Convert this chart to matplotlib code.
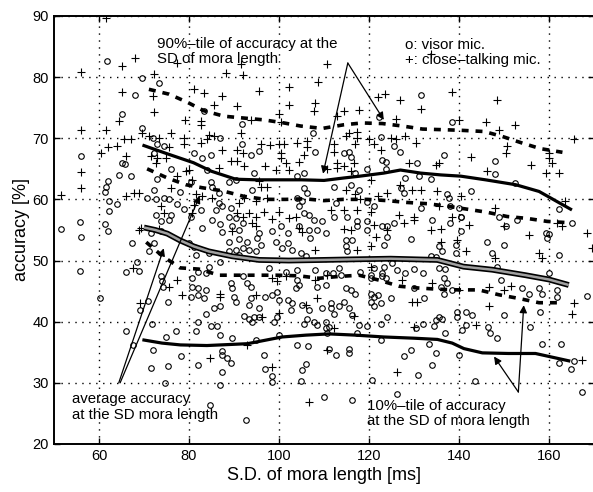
import matplotlib
matplotlib.use("Agg")
import matplotlib.pyplot as plt

plt.rcParams['font.family'] = ['Liberation Sans', 'DejaVu Sans']
plt.rcParams['lines.scale_dashes'] = False

# scatter data: visor mic. (o) and close-talking mic. (+), (SD of mora length [ms], accuracy [%])
visor_points = [
    (61.7, 82.7), (69.5, 79.8), (73.3, 79.1), (68.1, 77.1), (65.2, 74.0), (69.5, 71.6), (71.9, 70.1),
    (72.8, 69.0), (74.4, 68.7), (55.9, 67.1), (65.2, 66.0), (65.8, 65.8), (72.2, 67.6), (64.4, 64.0),
    (67.2, 63.9), (75.9, 64.9), (73.0, 63.4), (61.9, 63.0), (61.5, 62.1), (61.3, 61.2), (72.2, 61.6),
    (78.1, 61.2), (62.2, 59.7), (64.1, 59.2), (62.2, 58.1), (70.7, 60.3), (72.6, 60.0), (74.4, 60.3),
    (75.6, 60.0), (77.4, 59.3), (78.9, 58.4), (72.6, 57.5), (75.9, 57.4), (73.7, 56.4), (75.6, 56.7),
    (55.8, 56.3), (61.3, 55.9), (51.5, 55.1),
    (55.9, 53.9), (62.0, 54.8), (71.5, 54.5), (73.7, 54.8), (67.4, 52.8), (72.2, 52.9), (71.1, 51.6),
    (55.8, 48.3), (66.1, 48.2), (68.9, 48.3), (68.5, 49.8), (73.7, 47.4), (73.9, 46.6), (74.3, 45.6),
    (60.2, 43.9), (71.0, 43.4), (69.1, 41.9), (75.3, 43.3), (71.7, 39.6), (66.1, 38.5), (77.2, 38.5),
    (74.8, 37.5), (67.6, 36.2), (72.1, 35.3), (78.3, 34.4), (71.5, 32.5), (75.4, 32.7), (74.7, 30.0),
    (83.3, 74.5), (91.7, 72.4), (107.6, 70.9), (87.0, 70.1), (91.7, 69.1), (108.0, 67.7), (81.1, 67.6),
    (82.8, 66.8), (84.8, 67.2), (93.7, 67.2), (95.6, 67.9), (84.1, 64.8), (90.4, 63.2), (88.9, 62.8),
    (94.4, 64.3), (104.1, 63.8), (105.6, 64.3), (80.4, 62.8), (84.8, 62.8), (85.2, 62.1), (86.7, 61.0),
    (86.7, 59.4), (94.1, 61.6), (105.6, 61.9), (106.3, 61.1), (104.1, 60.2), (105.2, 59.7), (82.6, 58.3),
    (85.9, 58.3), (87.4, 58.9), (89.3, 58.6), (80.4, 57.2), (104.4, 58.9), (105.6, 57.8), (106.7, 57.5),
    (107.8, 56.7), (109.6, 56.4), (85.2, 56.7), (87.0, 55.9), (88.9, 57.2), (90.4, 56.9), (91.9, 56.1),
    (89.6, 55.6), (100.4, 55.6), (104.4, 55.7), (106.7, 55.0), (83.0, 55.3),
    (87.4, 54.6), (91.1, 55.0), (95.6, 54.5), (98.5, 54.8), (101.9, 54.5), (107.0, 53.7), (108.5, 55.0),
    (110.4, 54.5), (88.9, 53.1), (91.1, 53.5), (93.0, 53.1), (95.2, 53.7), (95.9, 52.6), (99.3, 53.1),
    (100.7, 52.0), (101.9, 52.8), (103.0, 51.7), (90.4, 51.7), (91.9, 52.0), (93.3, 51.7), (94.8, 51.5),
    (91.1, 50.9), (88.9, 51.5), (104.8, 51.2), (105.9, 50.8), (81.5, 50.9), (84.4, 51.2), (87.0, 49.8),
    (80.0, 52.8), (81.1, 52.2), (84.4, 49.0), (81.9, 48.2), (83.7, 47.9), (80.7, 47.1), (97.8, 48.7),
    (101.5, 48.2), (104.1, 48.5), (108.1, 48.5), (110.4, 47.9), (91.9, 47.4), (93.0, 46.3), (93.7, 45.7),
    (89.6, 45.5), (89.3, 46.3), (104.1, 46.8), (104.4, 46.0), (103.7, 45.5), (108.5, 45.7), (110.4, 46.0),
    (80.7, 45.7), (81.9, 45.5), (83.7, 45.2), (80.4, 44.1), (81.9, 44.4), (83.3, 43.8), (90.0, 44.1),
    (90.4, 43.3), (93.7, 43.8), (93.3, 42.7), (95.6, 42.2), (97.0, 44.1), (98.5, 44.4), (99.6, 44.9),
    (100.0, 43.6), (101.9, 43.6), (103.0, 43.0), (102.6, 41.9), (105.2, 42.7), (106.7, 41.9), (109.6, 42.2),
    (85.6, 42.2), (87.0, 42.5), (83.7, 41.3), (92.2, 40.9), (93.3, 40.5), (94.4, 40.7), (95.6, 40.8),
    (94.1, 40.0), (98.9, 40.0), (99.6, 40.7), (106.3, 40.5), (105.6, 39.6), (107.8, 40.0), (108.5, 39.4),
    (110.4, 40.0), (110.4, 38.9), (81.9, 40.0), (84.8, 39.3), (86.3, 39.3), (81.5, 38.4), (86.9, 37.8),
    (89.5, 37.4), (100.0, 37.9), (94.8, 37.0), (104.1, 36.2), (106.4, 36.0), (87.3, 35.2), (87.4, 34.6),
    (88.5, 34.0), (89.4, 33.3), (96.7, 34.6), (81.9, 32.9), (87.4, 31.8), (96.9, 32.2), (98.5, 31.1),
    (98.5, 30.2), (105.2, 32.1), (106.1, 33.1), (86.9, 29.7), (104.8, 30.3), (110.0, 27.7), (84.6, 26.3),
    (92.7, 24.0),
    (131.6, 77.0), (122.2, 73.5), (138.4, 72.6), (122.6, 70.2), (125.6, 68.7), (127.0, 67.7), (114.4, 67.6),
    (115.6, 67.7), (115.9, 67.0), (123.0, 66.4), (123.7, 66.1), (123.7, 65.0), (130.7, 66.0), (136.7, 67.2),
    (117.0, 64.3), (119.6, 64.9), (115.9, 62.4), (117.8, 61.6), (112.2, 62.0), (128.1, 63.5), (131.1, 63.8),
    (133.7, 63.3), (127.8, 61.0), (127.2, 61.9), (137.4, 60.8), (137.8, 60.2), (112.6, 59.4), (119.6, 59.5),
    (121.1, 59.0), (131.5, 58.6), (138.1, 58.9), (140.0, 58.6), (140.5, 57.2), (112.2, 57.2), (115.2, 57.2),
    (117.4, 56.4), (119.6, 56.4), (123.0, 55.6), (124.1, 55.7), (125.6, 56.1), (117.4, 55.6), (134.1, 56.7),
    (138.1, 56.1),
    (119.6, 55.0), (124.1, 53.9), (114.8, 53.3), (116.3, 53.3), (114.8, 52.4), (115.2, 51.6), (123.3, 52.6),
    (129.3, 53.5), (135.6, 52.3), (136.3, 51.5), (139.3, 51.2), (139.3, 52.6), (133.7, 50.8), (135.0, 50.5),
    (113.3, 48.7), (111.9, 47.9), (113.7, 47.6), (118.1, 48.2), (120.4, 47.6), (121.1, 48.7), (123.0, 47.9),
    (123.3, 49.0), (125.2, 49.6), (126.3, 48.5), (128.1, 47.9), (130.0, 48.6), (131.9, 47.9), (120.4, 47.1),
    (123.0, 47.4), (123.7, 47.1), (135.6, 48.7), (137.0, 48.6), (136.7, 47.1), (137.4, 46.3), (135.9, 45.7),
    (136.7, 44.6), (138.5, 45.2), (114.8, 45.5), (115.9, 45.2), (117.0, 44.6), (130.0, 45.5), (120.4, 44.6),
    (121.1, 44.1), (121.9, 44.4), (124.8, 43.8), (132.2, 43.8), (120.4, 43.3), (121.1, 42.5), (122.6, 43.0),
    (114.4, 43.3), (111.5, 43.0), (111.5, 42.2), (113.3, 42.5), (115.6, 42.2), (112.2, 41.3), (116.3, 41.1),
    (124.1, 40.8), (135.6, 40.8), (136.3, 40.4), (134.8, 40.3), (134.4, 39.3), (139.6, 41.6), (139.6, 40.8),
    (111.1, 39.2), (110.7, 38.2), (117.4, 38.2), (117.8, 39.4), (119.6, 39.3), (122.6, 39.7), (130.4, 38.9),
    (131.9, 39.7), (137.0, 38.1), (122.6, 37.0), (133.3, 36.4), (111.1, 35.5), (112.6, 34.5), (115.6, 35.6),
    (115.6, 34.8), (129.3, 35.3), (127.8, 34.4), (134.8, 34.8), (134.1, 32.9), (140.0, 34.5), (131.0, 31.3),
    (120.7, 30.4), (116.3, 27.2), (126.3, 28.2),
    (148.1, 66.2), (148.1, 64.2), (142.6, 61.3), (152.4, 62.7), (162.2, 58.4), (140.4, 57.2), (148.9, 57.2),
    (153.0, 56.6), (165.2, 56.1), (150.4, 55.7),
    (159.3, 54.5), (160.0, 54.4), (159.6, 53.7), (146.3, 53.0), (150.0, 52.6), (147.4, 51.2), (162.2, 50.9),
    (148.5, 49.0), (149.3, 46.8), (160.0, 47.9), (140.4, 54.8), (154.1, 45.5), (155.6, 44.6), (157.8, 45.5),
    (158.5, 44.6), (161.9, 45.2), (161.9, 44.1), (168.5, 44.2), (141.5, 41.6), (143.0, 41.1), (150.0, 41.1),
    (158.1, 41.6), (141.5, 39.4), (140.7, 38.6), (146.5, 39.2), (147.0, 38.2), (148.4, 37.4), (155.8, 39.1),
    (158.4, 36.4), (162.6, 36.4), (162.2, 33.3), (165.6, 33.6), (164.8, 32.2), (167.3, 28.5), (143.6, 30.3),
]

close_points = [
    (61.5, 89.7), (68.1, 83.1), (65.2, 81.8), (55.9, 80.8), (72.2, 80.5), (65.2, 77.6), (72.0, 76.9),
    (72.2, 74.3), (64.4, 72.9), (55.9, 71.3), (61.5, 71.3), (69.6, 70.9), (65.6, 69.9), (67.2, 69.8),
    (71.1, 70.4), (73.3, 70.1), (75.9, 70.8), (78.9, 70.0), (61.9, 68.5), (64.1, 68.7), (60.4, 67.6),
    (75.6, 68.6), (78.9, 69.0), (65.9, 67.1), (71.5, 67.1), (73.0, 66.8), (74.8, 66.7), (72.6, 66.0),
    (55.9, 64.5), (77.4, 63.9), (79.3, 64.6), (55.9, 61.9), (75.9, 61.9), (51.5, 60.7), (67.8, 61.1),
    (68.9, 61.1), (65.9, 60.5), (73.7, 58.9), (74.4, 57.8), (69.3, 55.4), (73.3, 55.1), (79.2, 73.0),
    (77.3, 82.3), (91.5, 82.2), (133.7, 83.7),
    (88.3, 80.6), (91.9, 80.3), (81.1, 78.1), (83.3, 77.4), (87.4, 76.9), (95.6, 77.7), (102.2, 78.4),
    (108.7, 79.2), (85.6, 75.5), (90.7, 75.2), (102.2, 75.4), (99.9, 74.0), (108.0, 75.7), (107.8, 74.4),
    (82.6, 72.8), (82.6, 72.2), (93.7, 73.0), (100.4, 72.6), (84.4, 70.6), (85.6, 70.3), (84.1, 69.8),
    (91.5, 70.9), (82.6, 69.2), (95.9, 69.0), (98.1, 68.9), (100.0, 69.0), (101.1, 69.0), (104.1, 69.2),
    (106.3, 69.5), (106.3, 68.6), (87.4, 68.1), (90.7, 68.1), (91.9, 67.6), (100.4, 67.6), (100.4, 66.8),
    (101.5, 66.0), (104.4, 66.1), (105.6, 67.3), (89.3, 66.3), (90.7, 66.2), (92.2, 65.5), (97.0, 65.4),
    (99.4, 64.8), (102.2, 64.8), (86.7, 65.1), (80.0, 64.8), (80.7, 63.2), (95.6, 63.0), (95.9, 62.1),
    (97.4, 62.0), (83.0, 60.5), (85.2, 60.2), (81.5, 60.8), (92.2, 60.2), (97.4, 60.2), (94.8, 59.7),
    (91.1, 59.4), (90.7, 57.8), (91.9, 57.2), (93.3, 57.8), (94.8, 57.2), (96.7, 58.0), (81.1, 59.1),
    (80.7, 57.8), (100.0, 58.0), (102.2, 57.0), (103.7, 57.2), (98.5, 56.8), (94.1, 56.1), (94.8, 55.6),
    (89.6, 54.9), (105.2, 54.6), (104.4, 55.3), (108.1, 51.7), (98.5, 47.1), (99.6, 46.6), (101.5, 47.4),
    (108.1, 46.8), (87.0, 44.6), (87.0, 44.1), (94.8, 44.4), (105.9, 42.7), (108.5, 43.8), (96.3, 40.7),
    (100.0, 41.5), (93.0, 36.2), (110.6, 35.4), (84.7, 34.1), (98.5, 32.6), (106.7, 26.8),
    (68.9, 55.0), (67.6, 48.7), (75.6, 45.7), (77.3, 46.8), (78.4, 44.4), (69.1, 43.0),
    (110.7, 82.1), (123.6, 77.2), (121.9, 76.8), (127.0, 76.3), (131.5, 74.8), (138.5, 77.5), (114.4, 74.5),
    (117.8, 74.6), (113.0, 73.6), (125.9, 73.1), (140.0, 73.0), (115.6, 70.9), (117.4, 71.0), (114.8, 70.3),
    (117.4, 70.1), (120.0, 69.9), (124.8, 70.1), (125.9, 69.9), (128.1, 70.4), (130.4, 69.2), (121.1, 69.0),
    (122.6, 68.1), (112.2, 69.0), (112.2, 67.7), (117.0, 69.0), (116.7, 66.0), (113.0, 66.0), (128.9, 66.0),
    (135.6, 66.0), (134.8, 65.7), (110.7, 65.0), (113.0, 65.1), (114.4, 65.4), (115.9, 64.6), (120.4, 63.1),
    (115.0, 61.5), (117.0, 60.8), (118.0, 60.1), (121.9, 60.5), (124.1, 61.0), (127.0, 62.4), (129.6, 61.6),
    (131.5, 61.6), (135.2, 61.3), (140.4, 60.5), (111.5, 58.2), (114.4, 58.3), (117.4, 58.3), (120.4, 58.0),
    (126.7, 57.5), (130.0, 57.2), (135.6, 58.9), (138.5, 57.2), (114.4, 55.1), (115.9, 55.0), (121.1, 55.8),
    (127.8, 56.1), (130.0, 56.7), (135.9, 55.1),
    (121.5, 53.9), (133.7, 55.0), (124.1, 55.0), (117.4, 51.7), (120.4, 52.4), (139.6, 53.4), (135.9, 53.0),
    (110.7, 47.6), (120.4, 49.0), (127.4, 46.8), (134.1, 46.3), (140.0, 45.2), (129.6, 43.3), (130.7, 43.3),
    (116.7, 40.9), (112.2, 38.9), (130.0, 39.2), (126.3, 31.8),
    (148.4, 76.3), (145.9, 72.6), (152.4, 72.2), (149.0, 71.4), (150.7, 68.7), (150.4, 67.6), (142.6, 67.0),
    (155.9, 65.7), (160.0, 67.6), (160.0, 66.8), (160.6, 66.0), (165.6, 69.9), (146.3, 64.6), (159.3, 64.3),
    (162.2, 64.3), (163.6, 59.8), (142.2, 55.8), (148.1, 58.6), (150.0, 55.7), (161.9, 56.1), (163.0, 55.6),
    (155.6, 54.2), (168.5, 54.5), (169.6, 52.0), (141.5, 51.5), (148.1, 50.4), (157.8, 51.2), (158.5, 50.4),
    (146.7, 45.7), (150.0, 45.2), (151.5, 45.8), (165.6, 43.1), (165.2, 41.3), (146.7, 42.6), (143.7, 39.4),
    (167.4, 33.8),
]

# curves: 90%-tile, average and 10%-tile of accuracy at the SD of mora length
visor_90_x = [70, 75, 81, 85, 90.4, 95, 100, 105, 110, 114.4, 118, 123.3, 127, 131.5, 136, 140.4, 145.9, 152.6, 157.8, 164.8]
visor_90_y = [68.8, 67.5, 66.0, 64.6, 63.3, 63.2, 63.2, 63.2, 63.1, 63.5, 63.8, 64.3, 64.8, 64.3, 64.0, 63.8, 63.2, 62.4, 61.3, 58.4]

close_90_x = [71.1, 75.6, 79.6, 83.3, 87.8, 92.2, 96.7, 101.1, 104.8, 109.6, 114.4, 118.5, 123, 127.4, 131.9, 136.3, 140.4, 145.6, 149.6, 154.1, 158.1, 163]
close_90_y = [78.0, 77.2, 75.9, 74.5, 73.6, 73.3, 73.0, 72.5, 72.0, 71.6, 72.2, 72.5, 72.4, 72.0, 71.5, 71.4, 71.3, 71.1, 70.3, 69.2, 68.3, 67.7]

visor_avg_x = [70, 72.5, 75.2, 78, 81.1, 84.4, 89.6, 95.6, 102.2, 110, 117, 124.8, 130, 135.2, 141, 147.4, 154.8, 160, 164.4]
visor_avg_y = [55.4, 55.0, 54.4, 53.3, 52.3, 51.5, 50.7, 50.1, 50.0, 50.1, 50.2, 50.3, 50.2, 50.1, 49.0, 48.5, 47.6, 46.9, 46.0]

close_avg_x = [70.7, 75.2, 79.3, 83, 87.4, 92.2, 97, 101.5, 105.6, 110, 114.2, 119.6, 124, 128.4, 132.9, 137.3, 141.8, 146.2, 150.7, 155, 159.6, 164]
close_avg_y = [65.0, 63.5, 62.4, 61.9, 61.4, 60.5, 60.0, 60.0, 60.1, 59.8, 60.0, 60.0, 59.8, 59.5, 59.3, 58.9, 58.4, 57.9, 57.2, 56.9, 56.4, 56.2]

visor_10_x = [70, 74, 78.1, 84, 93, 100.7, 106, 111.1, 117, 123.3, 130, 135.2, 138.5, 141.1, 145.2, 151, 157, 164.4]
visor_10_y = [37.0, 36.5, 36.2, 36.1, 36.4, 37.5, 37.8, 38.0, 37.8, 37.5, 37.3, 37.1, 36.5, 35.6, 34.9, 34.8, 34.8, 33.6]

close_10_x = [70.5, 74, 78, 82.2, 86.7, 91.1, 95.6, 99.6, 104.4, 108.9, 113.4, 117.8, 122.2, 126.7, 131.1, 135.6, 140, 144.4, 148.9, 153.3, 157.8, 162.2]
close_10_y = [53.0, 50.8, 48.8, 48.6, 47.6, 47.6, 47.6, 47.6, 47.5, 47.1, 47.4, 47.6, 46.8, 45.8, 45.5, 45.3, 45.2, 45.2, 44.4, 43.8, 43.1, 43.1]

x_ticks = [60, 80, 100, 120, 140, 160]
y_ticks = [20, 30, 40, 50, 60, 70, 80, 90]

fig = plt.figure(figsize=(5.93, 4.92), dpi=100)
ax = fig.add_axes([0.091, 0.0976, 0.9106, 0.870])

vx = [p[0] for p in visor_points]
vy = [p[1] for p in visor_points]
cx = [p[0] for p in close_points]
cy = [p[1] for p in close_points]

ax.plot(vx, vy, 'o', ms=4, mfc='none', mec='k', mew=0.8, zorder=2, clip_on=True)
ax.plot(cx, cy, '+', ms=5.5, mec='k', mew=0.8, zorder=2)

dash = (5, 5)
ax.plot(visor_90_x, visor_90_y, '-', color='k', lw=2.3, zorder=3)
ax.plot(close_90_x, close_90_y, color='k', lw=2.6, dashes=dash, zorder=3)
ax.plot(visor_avg_x, visor_avg_y, '-', color='k', lw=4.2, zorder=3, solid_capstyle='butt')
ax.plot(visor_avg_x, visor_avg_y, '-', color='#a0a0a0', lw=1.8, zorder=3, solid_capstyle='butt')
ax.plot(close_avg_x, close_avg_y, color='k', lw=2.6, dashes=dash, zorder=3)
ax.plot(visor_10_x, visor_10_y, '-', color='k', lw=2.3, zorder=3)
ax.plot(close_10_x, close_10_y, color='k', lw=2.6, dashes=dash, zorder=3)

arrow = dict(arrowstyle='-|>', color='k', lw=0.9, mutation_scale=11, shrinkA=0, shrinkB=0)
ax.annotate('', xy=(109.8, 64.2), xytext=(115.3, 82.3), arrowprops=arrow, zorder=4)
ax.annotate('', xy=(123.3, 73.0), xytext=(115.3, 82.3), arrowprops=arrow, zorder=4)
ax.annotate('', xy=(74.4, 52.0), xytext=(64.4, 30.0), arrowprops=arrow, zorder=4)
ax.annotate('', xy=(82.4, 60.6), xytext=(64.7, 30.0), arrowprops=arrow, zorder=4)
ax.annotate('', xy=(154.4, 42.7), xytext=(153.2, 28.5), arrowprops=arrow, zorder=4)
ax.annotate('', xy=(147.8, 34.3), xytext=(153.2, 28.5), arrowprops=arrow, zorder=4)

tkw = dict(fontsize=10.8, ha='left', va='center', linespacing=1.15, zorder=5)
ax.text(73.0, 84.2, '90%–tile of accuracy at the\nSD of mora length', **tkw)
ax.text(128.0, 84.0, 'o: visor mic.\n+: close–talking mic.', **tkw)
ax.text(54.0, 26.1, 'average accuracy\nat the SD mora length', **tkw)
ax.text(119.6, 25.0, '10%–tile of accuracy\nat the SD of mora length', **tkw)

ax.set_xlim(50, 170)
ax.set_ylim(20, 90)
ax.set_xticks(x_ticks)
ax.set_yticks(y_ticks)
ax.grid(True, color='k', linestyle=(0, (1, 4)), lw=1.0)
ax.tick_params(direction='in', top=True, right=True, length=4, width=1, labelsize=10.5, colors='k')
for s in ax.spines.values():
    s.set_linewidth(1.4)

ax.set_xlabel('S.D. of mora length [ms]', fontsize=13, labelpad=3)
ax.set_ylabel('accuracy [%]', fontsize=13, labelpad=2)

fig.savefig('out.png', dpi=100)
